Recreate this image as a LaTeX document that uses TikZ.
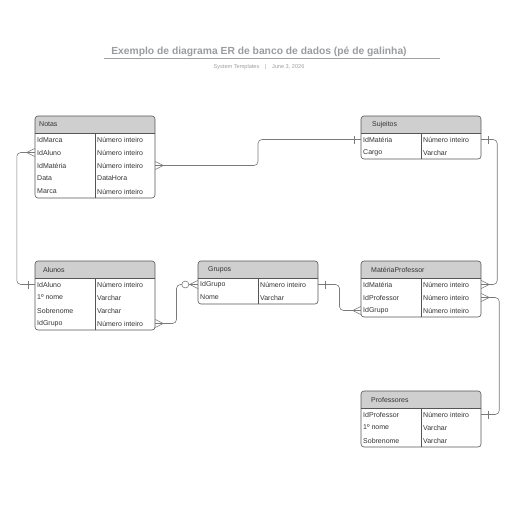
\documentclass[tikz,border=0pt]{standalone}
\usepackage{fontspec}
\setmainfont{Liberation Sans}
\usetikzlibrary{calc}
\definecolor{bordc}{HTML}{555555}
\definecolor{headfill}{HTML}{CFCFCF}
\definecolor{txtc}{HTML}{333333}
\definecolor{connc}{HTML}{7A7A7A}
\definecolor{titlec}{HTML}{9A9CA0}
\definecolor{subc}{HTML}{A0A0A0}
\tikzset{
  tborder/.style={draw=bordc, line width=0.6pt},
  headtxt/.style={anchor=west, inner sep=0pt, font=\fontsize{7}{8}\selectfont, text=txtc},
  celltxt/.style={anchor=west, inner sep=0pt, font=\fontsize{7}{8}\selectfont, text=txtc},
  rowbox/.style={minimum width=120pt, minimum height=13pt, inner sep=0pt, draw=none},
  conn/.style={draw=connc, line width=0.6pt},
}
\newcommand{\etable}[6]{%
  \pgfmathsetmacro{\tr}{#3+120}%
  \pgfmathsetmacro{\hb}{#4+17}%
  \pgfmathsetmacro{\tb}{#4+17+13*#5}%
  \begin{scope}
    \clip[rounded corners=3] (#3,#4) rectangle (\tr,\tb);
    \fill[headfill] (#3,#4) rectangle (\tr,\hb);
  \end{scope}
  \draw[tborder, rounded corners=3] (#3,#4) rectangle (\tr,\tb);
  \draw[tborder] (#3,\hb) -- (\tr,\hb);
  \draw[tborder] (#3+60,\hb) -- (#3+60,\tb);
  \node[headtxt] (#1) at (#3+#6,#4+8.5) {#2};
}
\newcommand{\erow}[5]{%
  \node[rowbox] (#1) at (#2+60,#3) {};
  \node[celltxt] (#1-k) at (#2+2,#3) {#4};
  \node[celltxt] (#1-t) at (#2+62,#3) {#5};
}
\newcommand{\manyAt}[2]{%
  \draw[conn] ([shift={(0,-4)}]#1) -- ([shift={(#2*8,0)}]#1) -- ([shift={(0,4)}]#1);}
\newcommand{\oneAt}[2]{%
  \draw[conn] ([shift={(#2*7,-4)}]#1) -- ([shift={(#2*7,4)}]#1);}
\begin{document}
\begin{tikzpicture}[x=1pt,y=-1pt]
\useasboundingbox[fill=white] (0,0) rectangle (516,516);
% title
\node[font=\bfseries\fontsize{10.3}{12}\selectfont, text=titlec, inner sep=0pt] (title) at (259,51.5) {Exemplo de diagrama ER de banco de dados (pé de galinha)};
\draw[draw=subc, line width=0.6pt] (104,58.5) -- (440,58.5);
\node[font=\fontsize{5.6}{7}\selectfont, text=subc, inner sep=0pt] (sub) at (259,67) {System Templates\quad|\quad June 3, 2026};

% Notas
\etable{notas}{Notas}{35}{116}{5}{4}
\erow{n1}{35}{139.5}{IdMarca}{Número inteiro}
\erow{n2}{35}{152.5}{IdAluno}{Número inteiro}
\erow{n3}{35}{165.5}{IdMatéria}{Número inteiro}
\erow{n4}{35}{178.5}{Data}{DataHora}
\erow{n5}{35}{191.5}{Marca}{Número inteiro}

% Sujeitos
\etable{sujeitos}{Sujeitos}{361}{116}{2}{11}
\erow{s1}{361}{139.5}{IdMatéria}{Número inteiro}
\erow{s2}{361}{152.5}{Cargo}{Varchar}

% Alunos
\etable{alunos}{Alunos}{35}{261}{4}{8}
\erow{a1}{35}{284.5}{IdAluno}{Número inteiro}
\erow{a2}{35}{297.5}{1º nome}{Varchar}
\erow{a3}{35}{310.5}{Sobrenome}{Varchar}
\erow{a4}{35}{323.5}{IdGrupo}{Número inteiro}

% Grupos
\etable{grupos}{Grupos}{198}{261}{2}{10}
\erow{g1}{198}{284.5}{IdGrupo}{Número inteiro}
\erow{g2}{198}{297.5}{Nome}{Varchar}

% MatériaProfessor
\etable{mp}{MatériaProfessor}{361}{261}{3}{10}
\erow{m1}{361}{284.5}{IdMatéria}{Número inteiro}
\erow{m2}{361}{297.5}{IdProfessor}{Número inteiro}
\erow{m3}{361}{310.5}{IdGrupo}{Número inteiro}

% Professores
\etable{prof}{Professores}{361}{391}{3}{10}
\erow{p1}{361}{414.5}{IdProfessor}{Número inteiro}
\erow{p2}{361}{427.5}{1º nome}{Varchar}
\erow{p3}{361}{440.5}{Sobrenome}{Varchar}

% connectors
\draw[conn, rounded corners=4] (n3.east) -| ($(n3.east)!.5!(s1.west)$) |- (s1.west);
\manyAt{n3.east}{1}
\oneAt{s1.west}{-1}

\draw[conn, rounded corners=4] (s1.east) -- ++(16,0) |- (m1.east);
\oneAt{s1.east}{1}
\manyAt{m1.east}{1}

\draw[conn, rounded corners=4] (p1.east) -- ++(18,0) |- (m2.east);
\oneAt{p1.east}{1}
\manyAt{m2.east}{1}

\draw[conn, rounded corners=4] (n2.west) -- ++(-18,0) |- (a1.west);
\manyAt{n2.west}{-1}
\oneAt{a1.west}{-1}

\draw[conn, rounded corners=4] (a4.east) -| ($(a4.east)!.5!(g1.west)$) |- (g1.west);
\manyAt{a4.east}{1}
\manyAt{g1.west}{-1}
\draw[conn, fill=white] ([shift={(-12.5,0)}]g1.west) circle (3.5);

\draw[conn, rounded corners=4] (g1.east) -| ($(g1.east)!.5!(m3.west)$) |- (m3.west);
\oneAt{g1.east}{1}
\manyAt{m3.west}{-1}
\end{tikzpicture}
\end{document}
